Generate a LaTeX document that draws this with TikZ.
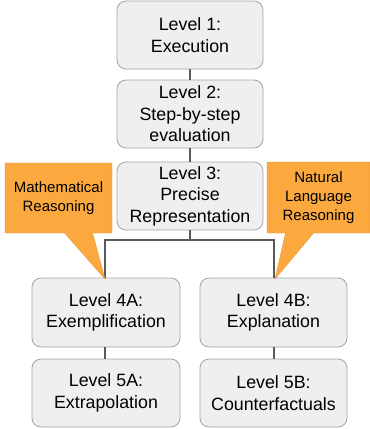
\documentclass[tikz,border=0pt]{standalone}
\usepackage{fontspec}
\setmainfont{Liberation Sans}
\usetikzlibrary{positioning, calc, shapes.callouts}
\definecolor{boxfill}{HTML}{EFEFEF}
\definecolor{boxline}{HTML}{A3A3A3}
\definecolor{calloutfill}{HTML}{FBA83F}
\definecolor{calloutline}{HTML}{E39A3C}
\definecolor{linkgray}{HTML}{595959}

\begin{document}
\begin{tikzpicture}[x=1pt, y=-1pt,
            level/.style={rectangle, rounded corners=9pt, draw=boxline, fill=boxfill, thick, minimum width=146pt, minimum height=68pt, align=center, inner sep=2pt, font=\fontsize{17.8}{21.5}\selectfont},
            note/.style={rectangle callout, draw=calloutline, fill=calloutfill, callout pointer width=28pt, align=center, inner sep=2pt, font=\fontsize{15}{19}\selectfont},
            link/.style={line width=2.2pt, linkgray}
        ]
            \useasboundingbox (0,0) rectangle (370,429);

            % --- levels ---
            \node[level] (l1) at (190,35) {Level 1:\\Execution};
            \node[level] (l2) at (190,114) {Level 2:\\Step-by-step\\evaluation};
            \node[level] (l3) at (190,196) {Level 3:\\Precise\\Representation};
            \node[level, minimum width=148pt, minimum height=69pt] (l4a) at (106,312.5) {Level 4A:\\Exemplification};
            \node[level, minimum width=147pt, minimum height=69pt] (l4b) at (273.5,312.5) {Level 4B:\\Explanation};
            \node[level, minimum width=148pt] (l5a) at (106,393) {Level 5A:\\Extrapolation};
            \node[level, minimum width=147pt] (l5b) at (273.5,393) {Level 5B:\\Counterfactuals};

            % --- links ---
            \coordinate (split) at (190,240);
            \draw[link] (l1) -- (l2);
            \draw[link] (l2) -- (l3);
            \draw[link] (l3) -- (split) -| (l4a.north -| 105,0);
            \draw[link] (split) -| (l4b.north -| 274,0);
            \draw[link] (l4a.south -| 105,0) -- (l5a.north -| 105,0);
            \draw[link] (l4b.south -| 274,0) -- (l5b.north -| 274,0);

            % --- callouts ---
            \node[note, minimum width=107pt, minimum height=70pt, callout absolute pointer={(105,279)}] (math) at (58.5,198) {Mathematical\\Reasoning};
            \node[note, minimum width=103pt, minimum height=71pt, callout absolute pointer={(275,279)}] (natural) at (318.5,197.5) {Natural\\Language\\Reasoning};
        \end{tikzpicture}
\end{document}
